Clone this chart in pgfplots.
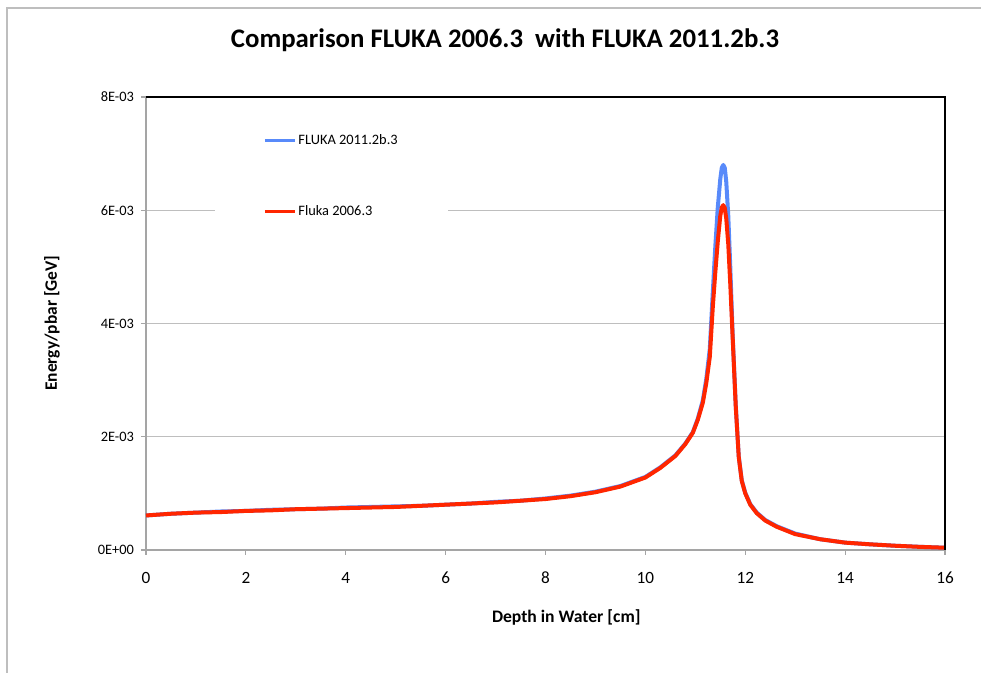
\documentclass[border=0pt]{standalone}
\usepackage{fontspec}
\setmainfont{Carlito}
\usepackage{pgfplots}
\pgfplotsset{compat=1.18}
\definecolor{flred}{RGB}{255,38,0}
\definecolor{flblue}{RGB}{88,138,250}
\definecolor{gridgray}{RGB}{190,190,190}
\definecolor{axgray}{RGB}{165,165,165}
\begin{document}
\begin{tikzpicture}
\path[use as bounding box] (0,0) rectangle (490.5pt,336.5pt);
\draw[gridgray, line width=1pt] (3.5pt,0) -- (3.5pt,332.5pt) -- (490.5pt,332.5pt);
\begin{axis}[
  at={(73pt,61.5pt)}, anchor=south west,
  scale only axis, width=399.5pt, height=226.5pt,
  xmin=0, xmax=16, ymin=0, ymax=0.008,
  xtick={0,2,...,16},
  ytick={0,0.002,0.004,0.006,0.008},
  yticklabels={0E+00,2E-03,4E-03,6E-03,8E-03},
  scaled y ticks=false,
  /pgf/number format/assume math mode=true,
  tick pos=left, tick align=outside,
  major tick length=2.5pt,
  tick style={axgray, line width=0.6pt},
  axis line style={axgray, line width=0.9pt},
  ymajorgrids, grid style={gridgray, line width=0.6pt},
  xticklabel style={font=\fontsize{8.6}{10}\selectfont, yshift=-5pt},
  yticklabel style={font=\fontsize{7.2}{9}\selectfont},
  xlabel={\textbf{Depth in Water [cm]}},
  ylabel={\textbf{Energy/pbar [GeV]}},
  xlabel style={at={(axis description cs:0.526,-0.150)}, anchor=center, font=\fontsize{8.8}{10}\selectfont},
  ylabel style={at={(axis description cs:-0.1176,0.501)}, anchor=center, font=\fontsize{8.7}{10}\selectfont},
  legend style={at={(axis description cs:0.0864,0.8256)}, anchor=west, draw=none, fill=white,
    inner xsep=24pt, inner ysep=14pt, row sep=27pt,
    font=\fontsize{7.2}{9}\selectfont,
    nodes={inner sep=1pt, anchor=west}},
  legend cell align=left,
  legend image code/.code={\draw[#1, line width=1.5pt] (0pt,0pt) -- (15pt,0pt);},
  clip=false,
]
\addplot[flblue, line width=2pt, line join=round] table {
0 0.00061
0.5 0.00064
1 0.00066
1.5 0.00068
2 0.00069
2.5 0.00071
3 0.00072
3.5 0.00073
4 0.00075
4.5 0.00076
5 0.00077
5.5 0.00078
6 0.00080
6.5 0.00082
7 0.00085
7.5 0.00087
8 0.00091
8.5 0.00096
9 0.00103
9.5 0.00113
10 0.00129
10.3 0.00146
10.6 0.00167
10.8 0.00188
10.95 0.00208
11.05 0.00232
11.15 0.00264
11.22 0.00302
11.29 0.00355
11.35 0.00455
11.40 0.00535
11.45 0.00605
11.50 0.00655
11.53 0.00675
11.56 0.00680
11.59 0.00675
11.62 0.00650
11.66 0.00590
11.70 0.00500
11.75 0.00375
11.81 0.00255
11.87 0.00165
11.93 0.00123
12.0 0.00101
12.1 0.00081
12.23 0.00066
12.4 0.00053
12.63 0.00042
13.0 0.00029
13.5 0.00019
14.0 0.00013
14.5 0.00010
15.0 0.000075
15.5 0.000056
16.0 0.000040
};
\addlegendentry{FLUKA 2011.2b.3}
\addplot[flred, line width=2pt, line join=round] table {
0 0.00061
0.5 0.00064
1 0.00066
1.5 0.00067
2 0.00069
2.5 0.00070
3 0.00072
3.5 0.00073
4 0.00074
4.5 0.00075
5 0.00076
5.5 0.00078
6 0.00080
6.5 0.00082
7 0.00084
7.5 0.00087
8 0.00090
8.5 0.00095
9 0.00102
9.5 0.00112
10 0.00128
10.3 0.00145
10.6 0.00166
10.8 0.00187
10.95 0.00207
11.05 0.00230
11.15 0.00260
11.22 0.00295
11.29 0.00341
11.35 0.00429
11.40 0.00490
11.45 0.00545
11.50 0.00590
11.53 0.00605
11.56 0.00609
11.59 0.00604
11.62 0.00585
11.66 0.00540
11.70 0.00470
11.75 0.00371
11.81 0.00253
11.87 0.00164
11.93 0.00122
12.0 0.00100
12.1 0.00080
12.23 0.00065
12.4 0.00052
12.63 0.00041
13.0 0.00028
13.5 0.00019
14.0 0.00013
14.5 0.00010
15.0 0.000075
15.5 0.000055
16.0 0.000040
};
\addlegendentry{Fluka 2006.3}
\draw[black, line width=0.9pt] (rel axis cs:0,1) -- (rel axis cs:1,1) -- (rel axis cs:1,0);
\end{axis}
\node[font=\bfseries\fontsize{13.4}{15}\selectfont] at (252.5pt,316.5pt) {Comparison FLUKA 2006.3\ \ with FLUKA 2011.2b.3};
\end{tikzpicture}
\end{document}
